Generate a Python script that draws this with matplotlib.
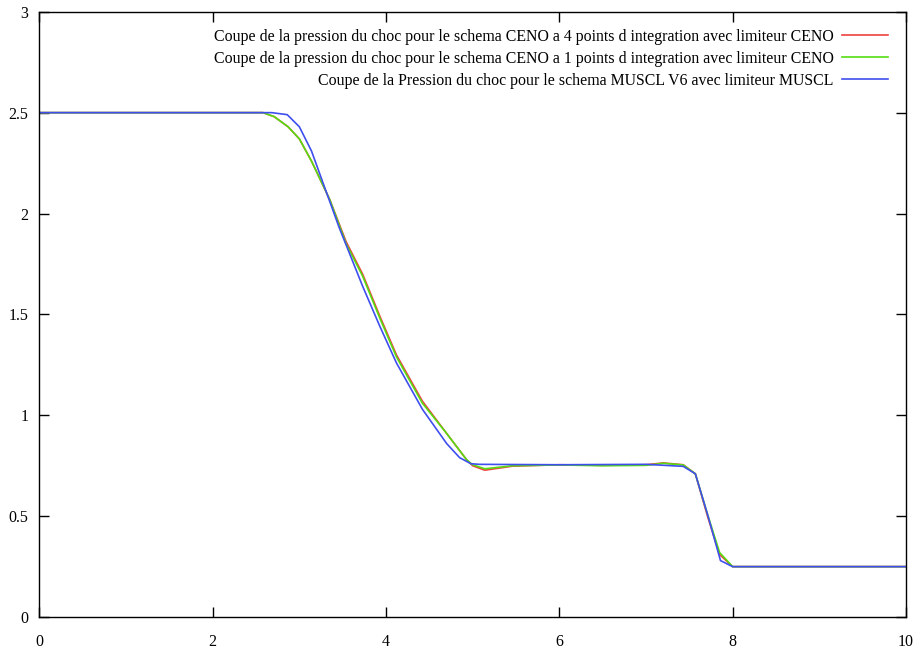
import matplotlib.pyplot as plt

# Pressure cut along the shock
x_ceno4 = [0, 2.58, 2.71, 2.87, 3.0, 3.14, 3.35, 3.54, 3.73, 3.93, 4.12, 4.42, 4.70,
           4.93, 5.0, 5.14, 5.46, 6.0, 6.5, 7.0, 7.2, 7.43, 7.57, 7.71, 7.85, 8.0, 10]
p_ceno4 = [2.5, 2.5, 2.48, 2.43, 2.37, 2.26, 2.07, 1.86, 1.70, 1.49, 1.30, 1.07, 0.91,
           0.78, 0.75, 0.728, 0.748, 0.755, 0.752, 0.755, 0.764, 0.755, 0.71, 0.50, 0.31, 0.25, 0.25]

x_ceno1 = [0, 2.58, 2.71, 2.87, 3.0, 3.14, 3.35, 3.54, 3.73, 3.93, 4.12, 4.42, 4.70,
           4.93, 5.0, 5.14, 5.46, 6.0, 6.5, 7.0, 7.2, 7.43, 7.57, 7.71, 7.85, 8.0, 10]
p_ceno1 = [2.5, 2.5, 2.48, 2.43, 2.37, 2.26, 2.07, 1.85, 1.69, 1.48, 1.29, 1.06, 0.91,
           0.78, 0.755, 0.735, 0.75, 0.754, 0.75, 0.752, 0.762, 0.754, 0.71, 0.51, 0.32, 0.25, 0.25]

x_muscl = [0, 2.68, 2.86, 3.0, 3.14, 3.46, 3.73, 3.93, 4.12, 4.42, 4.70, 4.85, 4.98,
           5.08, 6.0, 7.0, 7.43, 7.57, 7.71, 7.86, 8.0, 10]
p_muscl = [2.5, 2.5, 2.49, 2.43, 2.31, 1.93, 1.64, 1.44, 1.26, 1.03, 0.86, 0.79, 0.76,
           0.757, 0.755, 0.757, 0.747, 0.71, 0.51, 0.28, 0.25, 0.25]

labels = [
    "Coupe de la pression du choc pour le schema CENO a 4 points d integration avec limiteur CENO",
    "Coupe de la pression du choc pour le schema CENO a 1 points d integration avec limiteur CENO",
    "Coupe de la Pression du choc pour le schema MUSCL V6 avec limiteur MUSCL",
]

plt.rcParams['font.family'] = ['Liberation Serif', 'DejaVu Serif']

fig = plt.figure(figsize=(9.16, 6.53), dpi=100)
ax = fig.add_axes([0.043, 0.055, 0.946, 0.927])

ax.plot(x_ceno4, p_ceno4, color='#f04040', lw=1.2, label=labels[0])
ax.plot(x_ceno1, p_ceno1, color='#55dd11', lw=1.2, label=labels[1])
ax.plot(x_muscl, p_muscl, color='#3f4fee', lw=1.2, label=labels[2])

ax.set_xlim(0, 10)
ax.set_ylim(0, 3)
ax.set_xticks([0, 2, 4, 6, 8, 10])
ax.set_yticks([0, 0.5, 1, 1.5, 2, 2.5, 3])
ax.set_yticklabels(['0', '0.5', '1', '1.5', '2', '2.5', '3'])
ax.tick_params(direction='in', length=7, width=1, top=True, right=True, labelsize=11.5)
ax.tick_params(axis='x', pad=12)
ax.tick_params(axis='y', pad=8)
for s in ax.spines.values():
    s.set_linewidth(1.0)

leg = ax.legend(loc='upper right', markerfirst=False, frameon=False, fontsize=11.4,
                handlelength=2.9, handletextpad=0.55, labelspacing=0.38,
                borderaxespad=0, bbox_to_anchor=(0.987, 0.982))
for t in leg.get_texts():
    t.set_ha('right')

fig.savefig('out.png', dpi=100)
